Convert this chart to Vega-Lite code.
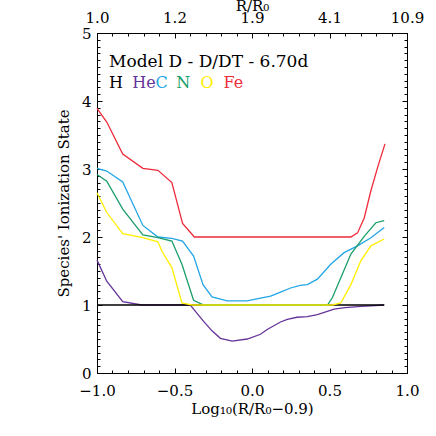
{
  "$schema": "https://vega.github.io/schema/vega-lite/v6.json",
  "width": 310,
  "height": 340,
  "autosize": {"type": "none"},
  "padding": {"left": 97, "top": 33, "right": 29, "bottom": 63},
  "background": "white",
  "config": {
    "view": {"stroke": "black", "strokeWidth": 1},
    "axis": {
      "grid": false, "domain": false, "labelFlush": false, "labelOverlap": false,
      "labelFont": "DejaVu Serif", "labelFontSize": 15, "labelColor": "black",
      "titleFont": "DejaVu Serif", "titleFontSize": 15, "titleFontWeight": "normal", "titleColor": "black",
      "tickColor": "black", "tickWidth": 1
    }
  },
  "datasets": {
    "frame": [{"x": -1, "y": 0}, {"x": 1, "y": 5}],
    "lines": [
      {"s": "He", "x": -1.0, "y": 1.66}, {"s": "He", "x": -0.937, "y": 1.35}, {"s": "He", "x": -0.834, "y": 1.05},
      {"s": "He", "x": -0.711, "y": 1.0}, {"s": "He", "x": -0.398, "y": 1.0}, {"s": "He", "x": -0.377, "y": 0.94},
      {"s": "He", "x": -0.312, "y": 0.76}, {"s": "He", "x": -0.258, "y": 0.62}, {"s": "He", "x": -0.204, "y": 0.51},
      {"s": "He", "x": -0.128, "y": 0.47}, {"s": "He", "x": -0.031, "y": 0.5}, {"s": "He", "x": 0.055, "y": 0.57},
      {"s": "He", "x": 0.098, "y": 0.64}, {"s": "He", "x": 0.184, "y": 0.75}, {"s": "He", "x": 0.228, "y": 0.79},
      {"s": "He", "x": 0.29, "y": 0.82}, {"s": "He", "x": 0.357, "y": 0.83}, {"s": "He", "x": 0.422, "y": 0.86},
      {"s": "He", "x": 0.53, "y": 0.94}, {"s": "He", "x": 0.6, "y": 0.96}, {"s": "He", "x": 0.681, "y": 0.975},
      {"s": "He", "x": 0.853, "y": 1.0},
      {"s": "H", "x": -1.0, "y": 1.0}, {"s": "H", "x": 0.853, "y": 1.0},
      {"s": "C", "x": -1.0, "y": 3.01}, {"s": "C", "x": -0.937, "y": 2.97}, {"s": "C", "x": -0.834, "y": 2.81},
      {"s": "C", "x": -0.704, "y": 2.17}, {"s": "C", "x": -0.607, "y": 2.0}, {"s": "C", "x": -0.517, "y": 1.98},
      {"s": "C", "x": -0.448, "y": 1.94}, {"s": "C", "x": -0.377, "y": 1.72}, {"s": "C", "x": -0.316, "y": 1.3},
      {"s": "C", "x": -0.258, "y": 1.12}, {"s": "C", "x": -0.16, "y": 1.06}, {"s": "C", "x": -0.031, "y": 1.06},
      {"s": "C", "x": 0.055, "y": 1.1}, {"s": "C", "x": 0.12, "y": 1.13}, {"s": "C", "x": 0.184, "y": 1.19},
      {"s": "C", "x": 0.249, "y": 1.25}, {"s": "C", "x": 0.31, "y": 1.29}, {"s": "C", "x": 0.357, "y": 1.3},
      {"s": "C", "x": 0.422, "y": 1.38}, {"s": "C", "x": 0.508, "y": 1.6}, {"s": "C", "x": 0.594, "y": 1.77},
      {"s": "C", "x": 0.681, "y": 1.87}, {"s": "C", "x": 0.767, "y": 1.99}, {"s": "C", "x": 0.853, "y": 2.14},
      {"s": "N", "x": -1.0, "y": 2.92}, {"s": "N", "x": -0.937, "y": 2.82}, {"s": "N", "x": -0.834, "y": 2.41},
      {"s": "N", "x": -0.704, "y": 2.03}, {"s": "N", "x": -0.607, "y": 1.99}, {"s": "N", "x": -0.517, "y": 1.94},
      {"s": "N", "x": -0.452, "y": 1.6}, {"s": "N", "x": -0.377, "y": 1.07}, {"s": "N", "x": -0.312, "y": 1.0},
      {"s": "N", "x": 0.487, "y": 1.0}, {"s": "N", "x": 0.519, "y": 1.11}, {"s": "N", "x": 0.573, "y": 1.4},
      {"s": "N", "x": 0.638, "y": 1.75}, {"s": "N", "x": 0.724, "y": 2.01}, {"s": "N", "x": 0.799, "y": 2.21},
      {"s": "N", "x": 0.853, "y": 2.24},
      {"s": "O", "x": -1.0, "y": 2.65}, {"s": "O", "x": -0.937, "y": 2.36}, {"s": "O", "x": -0.834, "y": 2.05},
      {"s": "O", "x": -0.704, "y": 1.99}, {"s": "O", "x": -0.607, "y": 1.93}, {"s": "O", "x": -0.581, "y": 1.79},
      {"s": "O", "x": -0.517, "y": 1.55}, {"s": "O", "x": -0.452, "y": 1.03}, {"s": "O", "x": -0.387, "y": 1.0},
      {"s": "O", "x": 0.519, "y": 1.0}, {"s": "O", "x": 0.573, "y": 1.03}, {"s": "O", "x": 0.638, "y": 1.3},
      {"s": "O", "x": 0.702, "y": 1.65}, {"s": "O", "x": 0.767, "y": 1.87}, {"s": "O", "x": 0.853, "y": 1.97},
      {"s": "Fe", "x": -1.0, "y": 3.89}, {"s": "Fe", "x": -0.937, "y": 3.69}, {"s": "Fe", "x": -0.834, "y": 3.22},
      {"s": "Fe", "x": -0.704, "y": 3.01}, {"s": "Fe", "x": -0.607, "y": 2.98}, {"s": "Fe", "x": -0.517, "y": 2.8},
      {"s": "Fe", "x": -0.448, "y": 2.2}, {"s": "Fe", "x": -0.372, "y": 2.0}, {"s": "Fe", "x": 0.638, "y": 2.0},
      {"s": "Fe", "x": 0.681, "y": 2.06}, {"s": "Fe", "x": 0.724, "y": 2.28}, {"s": "Fe", "x": 0.767, "y": 2.68},
      {"s": "Fe", "x": 0.81, "y": 3.02}, {"s": "Fe", "x": 0.858, "y": 3.37}
    ],
    "title": [{"label": "Model D - D/DT - 6.70d", "x": -0.922, "y": 4.58}],
    "legend": [
      {"s": "H", "x": -0.922, "y": 4.27},
      {"s": "He", "x": -0.773, "y": 4.27},
      {"s": "C", "x": -0.622, "y": 4.27},
      {"s": "N", "x": -0.489, "y": 4.27},
      {"s": "O", "x": -0.333, "y": 4.27},
      {"s": "Fe", "x": -0.184, "y": 4.27}
    ]
  },
  "resolve": {"axis": {"x": "independent", "y": "independent"}},
  "layer": [
    {
      "data": {"name": "frame"},
      "mark": {"type": "point", "opacity": 0},
      "encoding": {
        "x": {"field": "x", "type": "quantitative", "scale": {"domain": [-1, 1], "nice": false, "zero": false},
          "axis": {"orient": "bottom", "values": [-1, -0.5, 0, 0.5, 1], "format": ".1f", "ticks": false, "labelPadding": 10, "title": "Log₁₀(R/R₀−0.9)", "titlePadding": 3}},
        "y": {"field": "y", "type": "quantitative", "scale": {"domain": [0, 5], "nice": false},
          "axis": {"orient": "left", "values": [0, 1, 2, 3, 4, 5], "format": "d", "ticks": false, "labelPadding": 6, "title": "Species' Ionization State", "titlePadding": 10}}
      }
    },
    {
      "data": {"name": "frame"},
      "mark": {"type": "point", "opacity": 0},
      "encoding": {
        "x": {"field": "x", "type": "quantitative",
          "axis": {"orient": "bottom", "values": [-1, -0.5, 0, 0.5, 1], "labels": false, "tickSize": -5, "title": null}},
        "y": {"field": "y", "type": "quantitative",
          "axis": {"orient": "left", "values": [0, 1, 2, 3, 4, 5], "labels": false, "tickSize": -5, "title": null}}
      }
    },
    {
      "data": {"name": "frame"},
      "mark": {"type": "point", "opacity": 0},
      "encoding": {
        "x": {"field": "x", "type": "quantitative",
          "axis": {"orient": "bottom", "values": [-1, -0.9, -0.8, -0.7, -0.6, -0.5, -0.4, -0.3, -0.2, -0.1, 0, 0.1, 0.2, 0.3, 0.4, 0.5, 0.6, 0.7, 0.8, 0.9, 1], "labels": false, "tickSize": -3, "title": null}},
        "y": {"field": "y", "type": "quantitative",
          "axis": {"orient": "left", "values": [0, 0.1, 0.2, 0.3, 0.4, 0.5, 0.6, 0.7, 0.8, 0.9, 1, 1.1, 1.2, 1.3, 1.4, 1.5, 1.6, 1.7, 1.8, 1.9, 2, 2.1, 2.2, 2.3, 2.4, 2.5, 2.6, 2.7, 2.8, 2.9, 3, 3.1, 3.2, 3.3, 3.4, 3.5, 3.6, 3.7, 3.8, 3.9, 4, 4.1, 4.2, 4.3, 4.4, 4.5, 4.6, 4.7, 4.8, 4.9, 5], "labels": false, "tickSize": -3, "title": null}}
      }
    },
    {
      "data": {"name": "frame"},
      "mark": {"type": "point", "opacity": 0},
      "encoding": {
        "x": {"field": "x", "type": "quantitative",
          "axis": {"orient": "top", "values": [-1, -0.5, 0, 0.5, 1], "labelExpr": "format(0.9 + pow(10, datum.value), '.1f')", "ticks": false, "labelPadding": 8, "title": "R/R₀", "titlePadding": -3}},
        "y": {"field": "y", "type": "quantitative",
          "axis": {"orient": "right", "values": [0, 1, 2, 3, 4, 5], "labels": false, "tickSize": -5, "title": null}}
      }
    },
    {
      "data": {"name": "frame"},
      "mark": {"type": "point", "opacity": 0},
      "encoding": {
        "x": {"field": "x", "type": "quantitative",
          "axis": {"orient": "top", "values": [-1, -0.5, 0, 0.5, 1], "labels": false, "tickSize": -5, "title": null}},
        "y": {"field": "y", "type": "quantitative",
          "axis": {"orient": "right", "values": [0, 0.1, 0.2, 0.3, 0.4, 0.5, 0.6, 0.7, 0.8, 0.9, 1, 1.1, 1.2, 1.3, 1.4, 1.5, 1.6, 1.7, 1.8, 1.9, 2, 2.1, 2.2, 2.3, 2.4, 2.5, 2.6, 2.7, 2.8, 2.9, 3, 3.1, 3.2, 3.3, 3.4, 3.5, 3.6, 3.7, 3.8, 3.9, 4, 4.1, 4.2, 4.3, 4.4, 4.5, 4.6, 4.7, 4.8, 4.9, 5], "labels": false, "tickSize": -3, "title": null}}
      }
    },
    {
      "data": {"name": "frame"},
      "mark": {"type": "point", "opacity": 0},
      "encoding": {
        "x": {"field": "x", "type": "quantitative",
          "axis": {"orient": "top", "values": [-1, -0.9, -0.8, -0.7, -0.6, -0.5, -0.4, -0.3, -0.2, -0.1, 0, 0.1, 0.2, 0.3, 0.4, 0.5, 0.6, 0.7, 0.8, 0.9, 1], "labels": false, "tickSize": -3, "title": null}},
        "y": {"field": "y", "type": "quantitative", "axis": null}
      }
    },
    {
      "data": {"name": "lines"},
      "transform": [{"filter": "datum.s == 'He'"}],
      "mark": {"type": "line", "strokeWidth": 1.3},
      "encoding": {
        "x": {"field": "x", "type": "quantitative", "axis": null},
        "y": {"field": "y", "type": "quantitative", "axis": null},
        "color": {"field": "s", "type": "nominal", "legend": null,
          "scale": {"domain": ["H", "He", "C", "N", "O", "Fe"], "range": ["#000000", "#663399", "#22a6e6", "#1a9e6a", "#ffee00", "#ee2b3a"]}}
      }
    },
    {
      "data": {"name": "lines"},
      "transform": [{"filter": "datum.s == 'H'"}],
      "mark": {"type": "line", "strokeWidth": 1.3},
      "encoding": {
        "x": {"field": "x", "type": "quantitative", "axis": null},
        "y": {"field": "y", "type": "quantitative", "axis": null},
        "color": {"field": "s", "type": "nominal", "legend": null}
      }
    },
    {
      "data": {"name": "lines"},
      "transform": [{"filter": "datum.s == 'C'"}],
      "mark": {"type": "line", "strokeWidth": 1.3},
      "encoding": {
        "x": {"field": "x", "type": "quantitative", "axis": null},
        "y": {"field": "y", "type": "quantitative", "axis": null},
        "color": {"field": "s", "type": "nominal", "legend": null}
      }
    },
    {
      "data": {"name": "lines"},
      "transform": [{"filter": "datum.s == 'N'"}],
      "mark": {"type": "line", "strokeWidth": 1.3},
      "encoding": {
        "x": {"field": "x", "type": "quantitative", "axis": null},
        "y": {"field": "y", "type": "quantitative", "axis": null},
        "color": {"field": "s", "type": "nominal", "legend": null}
      }
    },
    {
      "data": {"name": "lines"},
      "transform": [{"filter": "datum.s == 'O'"}],
      "mark": {"type": "line", "strokeWidth": 1.3},
      "encoding": {
        "x": {"field": "x", "type": "quantitative", "axis": null},
        "y": {"field": "y", "type": "quantitative", "axis": null},
        "color": {"field": "s", "type": "nominal", "legend": null}
      }
    },
    {
      "data": {"name": "lines"},
      "transform": [{"filter": "datum.s == 'Fe'"}],
      "mark": {"type": "line", "strokeWidth": 1.3},
      "encoding": {
        "x": {"field": "x", "type": "quantitative", "axis": null},
        "y": {"field": "y", "type": "quantitative", "axis": null},
        "color": {"field": "s", "type": "nominal", "legend": null}
      }
    },
    {
      "data": {"name": "title"},
      "mark": {"type": "text", "align": "left", "baseline": "middle", "font": "DejaVu Serif", "fontSize": 17, "color": "black"},
      "encoding": {
        "x": {"field": "x", "type": "quantitative", "axis": null},
        "y": {"field": "y", "type": "quantitative", "axis": null},
        "text": {"field": "label"}
      }
    },
    {
      "data": {"name": "legend"},
      "mark": {"type": "text", "align": "left", "baseline": "middle", "font": "DejaVu Serif", "fontSize": 16},
      "encoding": {
        "x": {"field": "x", "type": "quantitative", "axis": null},
        "y": {"field": "y", "type": "quantitative", "axis": null},
        "text": {"field": "s"},
        "color": {"field": "s", "type": "nominal", "legend": null}
      }
    }
  ]
}
